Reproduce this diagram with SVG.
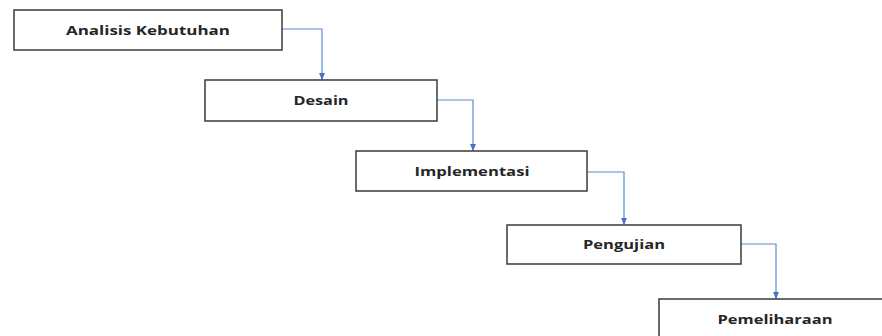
<svg xmlns="http://www.w3.org/2000/svg" width="882" height="336" viewBox="0 0 882 336">
<style>
.box{fill:#fff;stroke:#3a3a3a;stroke-width:1.5}
.lbl{font-family:"Open Sans","Liberation Sans",sans-serif;font-weight:bold;font-size:12.5px;fill:#262626;text-anchor:middle;dominant-baseline:central}
.con{fill:none;stroke:#5b8ad6;stroke-width:1.2;marker-end:url(#ah)}
</style>
<defs>
<marker id="ah" markerWidth="8" markerHeight="8" refX="7" refY="4" orient="auto" markerUnits="userSpaceOnUse">
<path d="M0,1 L7,4 L0,7 Z" fill="#4472c4"/>
</marker>
</defs>
<rect width="882" height="336" fill="#fff"/>
<g id="connectors">
<path class="con" d="M282,29 H322 V80"/>
<path class="con" d="M437,100 H473 V151"/>
<path class="con" d="M587,172 H624 V225"/>
<path class="con" d="M741,244 H776 V299"/>
</g>
<g id="n1"><rect class="box" x="14" y="10" width="268" height="40"/><text class="lbl" x="148" y="30" textLength="164" lengthAdjust="spacingAndGlyphs">Analisis Kebutuhan</text></g>
<g id="n2"><rect class="box" x="205" y="80" width="232" height="41"/><text class="lbl" x="321" y="100" textLength="55" lengthAdjust="spacingAndGlyphs">Desain</text></g>
<g id="n3"><rect class="box" x="356" y="151" width="231" height="40"/><text class="lbl" x="472" y="171" textLength="115" lengthAdjust="spacingAndGlyphs">Implementasi</text></g>
<g id="n4"><rect class="box" x="507" y="225" width="234" height="39"/><text class="lbl" x="624" y="244" textLength="82" lengthAdjust="spacingAndGlyphs">Pengujian</text></g>
<g id="n5"><rect class="box" x="659" y="299" width="234" height="40"/><text class="lbl" x="775" y="319" textLength="115" lengthAdjust="spacingAndGlyphs">Pemeliharaan</text></g>
</svg>
